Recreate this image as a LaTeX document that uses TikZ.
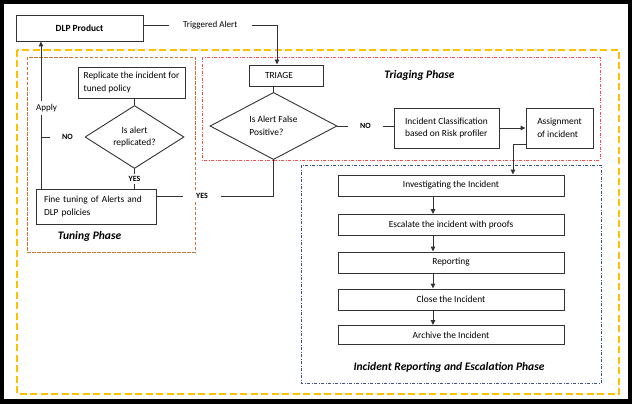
\documentclass[tikz,border=0pt]{standalone}
\usepackage{fontspec}
\setmainfont{Carlito}
\usetikzlibrary{shapes.geometric,arrows.meta}
\definecolor{ygold}{HTML}{FFC000}
\definecolor{oframe}{HTML}{C87533}
\definecolor{rframe}{HTML}{FF4A4A}
\definecolor{bframe}{HTML}{3F5290}
\definecolor{lineclr}{HTML}{333333}
\begin{document}
\begin{tikzpicture}[x=1pt,y=-1pt,
  box/.style={draw=lineclr, line width=0.9pt, fill=white, inner sep=0pt, align=left, font=\fontsize{9.4}{12.5}\selectfont},
  dia/.style={draw=lineclr, line width=0.9pt, fill=white, shape=diamond, inner sep=0pt, font=\fontsize{9.4}{12.5}\selectfont},
  conn/.style={draw=lineclr, line width=0.9pt},
  arr/.style={conn, -{Triangle[length=5pt,width=4.5pt]}},
  lbl/.style={fill=white, inner sep=0pt, minimum height=10pt, font=\fontsize{9}{11}\selectfont},
  yn/.style={lbl, font=\fontsize{8}{10}\selectfont\bfseries},
  phase/.style={font=\fontsize{11.5}{14}\selectfont\bfseries\itshape},
  yframe/.style={draw=ygold, line width=1.2pt, dash pattern=on 7pt off 3.5pt},
  oframestyle/.style={draw=oframe, line width=0.9pt, dash pattern=on 3.5pt off 1.5pt},
  rframestyle/.style={draw=rframe, line width=0.9pt, dash pattern=on 3pt off 1.5pt on 1pt off 1.5pt},
  bframestyle/.style={draw=bframe, line width=0.9pt, dash pattern=on 3pt off 1.5pt on 1pt off 1.5pt}]
% background frame
\fill[black] (0,0) rectangle (632,404);
\fill[white] (4,4) rectangle (628,399);
\useasboundingbox (0,0) rectangle (632,404);
% phase frames
\draw[yframe] (17,50) rectangle (619,394);
\draw[oframestyle] (27,57) rectangle (195,252);
\draw[rframestyle] (202,57) rectangle (600,160);
\draw[bframestyle] (301,165) rectangle (601,383);
% nodes
\node[box, minimum width=127pt, minimum height=26pt, font=\fontsize{9.4}{12.5}\selectfont\bfseries] (dlp) at (79.5,28) {DLP Product};
\node[box, text width=42pt, inner xsep=16pt, minimum height=21pt] (triage) at (286,75.5) {TRIAGE};
\node[dia, minimum width=127pt, minimum height=58pt, align=left] (fp) at (273.5,126) {Is Alert False\\Positive?};
\node[box, minimum width=105pt, minimum height=40pt] (cls) at (446.5,128) {Incident Classification\\based on Risk profiler};
\node[box, minimum width=67pt, minimum height=40pt] (asg) at (559.5,128) {Assignment\\of incident};
\node[box, minimum width=107pt, minimum height=31pt] (repl) at (131.5,82.5) {Replicate the incident for\\tuned policy};
\node[dia, minimum width=99pt, minimum height=44pt, align=center] (repd) at (134.5,137) {Is alert\\replicated?};
\node[box, text width=104pt, inner xsep=8pt, minimum height=35pt] (fine) at (96,206.5) {Fine tuning of Alerts and\\DLP policies};
\node[box, minimum width=226pt, minimum height=21pt] (inv) at (451,185.5) {Investigating the Incident};
\node[box, minimum width=226pt, minimum height=21pt] (esc) at (451,225) {Escalate the incident with proofs};
\node[box, minimum width=226pt, minimum height=21pt] (rep) at (451,262.5) {Reporting};
\node[box, minimum width=226pt, minimum height=21pt] (cls2) at (451,299.5) {Close the Incident};
\node[box, minimum width=226pt, minimum height=19pt] (arch) at (451,335) {Archive the Incident};
% phase labels
\node[phase] (tph) at (419.5,75) {Triaging Phase};
\node[phase] (tuph) at (89.5,236) {Tuning Phase};
\node[phase] (irph) at (449,367) {Incident Reporting and Escalation Phase};
% connectors
\draw[arr] ([yshift=3pt]dlp.east) -| ([xshift=-9pt]triage.north)
  node[lbl, pos=0.25, minimum width=83pt] {Triggered Alert};
\draw[conn] (triage.south -| fp.north) -- (fp.north);
\draw[conn] (fp.east) -- (fp.east -| cls.west) node[yn, midway, minimum width=35pt] {NO};
\draw[arr] (cls.east) -- (cls.east -| asg.west);
\draw[arr] ([yshift=-16pt]asg.west) -| ([xshift=62pt]inv.north);
\draw[arr] ([xshift=-18pt]inv.south) -- ([xshift=-18pt]esc.north);
\draw[arr] ([xshift=-18pt]esc.south) -- ([xshift=-18pt]rep.north);
\draw[arr] ([xshift=-18pt]rep.south) -- ([xshift=-18pt]cls2.north);
\draw[arr] ([xshift=-18pt]cls2.south) -- ([xshift=-18pt]arch.north);
\coordinate (yesturn) at (fp.south |- 0,196);
\draw[conn] (fp.south) -- (yesturn) -- (yesturn -| fine.east);
\node[yn, minimum width=38pt] (yes1) at (202,196) {YES};
\draw[conn] (repl.south -| repd.north) -- (repd.north);
\draw[conn] (repd.south) -- (repd.south |- fine.north) node[yn, midway, minimum width=18pt] {YES};
\coordinate (noj) at (41,137);
\draw[conn] (repd.west) -- (noj);
\node[yn, minimum width=35pt] (no2) at (67.5,137) {NO};
\draw[arr] ([xshift=-55pt]fine.north) -- ([xshift=-38.5pt]dlp.south);
\node[lbl, minimum height=14pt] (apply) at (46.5,108) {Apply};
\end{tikzpicture}
\end{document}
